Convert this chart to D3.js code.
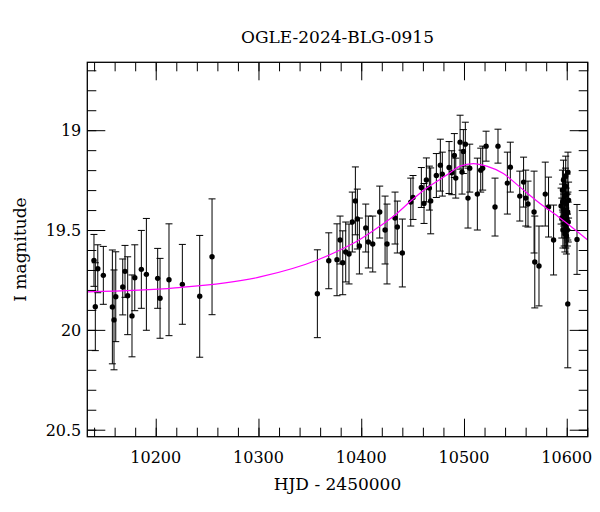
<!DOCTYPE html>
<html>
<head>
<meta charset="utf-8">
<script src="https://cdn.jsdelivr.net/npm/d3@7"></script>
<style>
  body { margin: 0; background: #fff; }
  text { font-family: "DejaVu Serif", serif; fill: #000; }
</style>
</head>
<body>
<div id="chart"></div>
<script>
// OGLE photometry: [HJD-2450000, I mag, error]
const observations = [
  [10139.9, 19.652, 0.13], [10141.2, 19.884, 0.22], [10143.6, 19.694, 0.12],
  [10149.0, 19.727, 0.145], [10157.8, 19.885, 0.285], [10159.4, 19.95, 0.25],
  [10161.1, 19.834, 0.225], [10167.9, 19.785, 0.14], [10170.1, 19.707, 0.13],
  [10172.7, 19.829, 0.195], [10176.9, 19.93, 0.205], [10179.6, 19.739, 0.165],
  [10186.0, 19.697, 0.195], [10190.9, 19.722, 0.28], [10201.9, 19.742, 0.15],
  [10204.2, 19.842, 0.2], [10212.9, 19.749, 0.28], [10225.9, 19.772, 0.2],
  [10242.8, 19.832, 0.305], [10254.8, 19.634, 0.29],
  [10357.3, 19.819, 0.22], [10368.4, 19.654, 0.14], [10376.4, 19.649, 0.18],
  [10379.4, 19.55, 0.12], [10382.0, 19.664, 0.16], [10384.9, 19.61, 0.15],
  [10388.1, 19.62, 0.15], [10391.3, 19.46, 0.15], [10394.3, 19.354, 0.17],
  [10396.2, 19.445, 0.15], [10398.2, 19.58, 0.14], [10404.4, 19.49, 0.12],
  [10406.9, 19.56, 0.13], [10411.2, 19.57, 0.14], [10418.0, 19.41, 0.13],
  [10423.2, 19.50, 0.17], [10425.1, 19.57, 0.2], [10432.9, 19.44, 0.13],
  [10435.1, 19.485, 0.13], [10440.0, 19.615, 0.17], [10448.2, 19.36, 0.12],
  [10450.4, 19.337, 0.11], [10458.5, 19.287, 0.10], [10461.1, 19.367, 0.10],
  [10463.4, 19.249, 0.11], [10466.3, 19.29, 0.11], [10467.6, 19.354, 0.165],
  [10473.1, 19.227, 0.11], [10477.0, 19.175, 0.13], [10478.9, 19.22, 0.11],
  [10485.5, 19.187, 0.13], [10488.1, 19.213, 0.11], [10490.6, 19.127, 0.11],
  [10492.0, 19.24, 0.10], [10496.2, 19.06, 0.135], [10498.1, 19.21, 0.11],
  [10499.4, 19.107, 0.11], [10501.3, 19.07, 0.11], [10503.9, 19.34, 0.15],
  [10505.6, 19.19, 0.12], [10513.0, 19.32, 0.18], [10516.3, 19.2, 0.11],
  [10518.2, 19.19, 0.11], [10521.5, 19.08, 0.075], [10530.2, 19.385, 0.145],
  [10533.1, 19.08, 0.085], [10542.2, 19.265, 0.155], [10545.1, 19.185, 0.125],
  [10554.3, 19.33, 0.125], [10558.0, 19.26, 0.125], [10560.1, 19.34, 0.14],
  [10562.3, 19.37, 0.115], [10568.2, 19.41, 0.205], [10568.9, 19.66, 0.23],
  [10573.0, 19.68, 0.2], [10579.1, 19.32, 0.16], [10582.3, 19.385, 0.15],
  [10587.2, 19.55, 0.175],
  [10594.5, 19.38, 0.09], [10595.2, 19.44, 0.10], [10595.8, 19.30, 0.10],
  [10596.3, 19.50, 0.09], [10596.8, 19.25, 0.10], [10597.1, 19.40, 0.08],
  [10597.5, 19.47, 0.11], [10597.9, 19.33, 0.09], [10598.2, 19.52, 0.09],
  [10598.5, 19.42, 0.08], [10598.8, 19.28, 0.09], [10599.1, 19.49, 0.10],
  [10599.4, 19.37, 0.08], [10599.7, 19.53, 0.09], [10600.0, 19.45, 0.09],
  [10600.3, 19.32, 0.10], [10600.6, 19.50, 0.08], [10600.9, 19.41, 0.09],
  [10601.2, 19.21, 0.10], [10601.5, 19.46, 0.10], [10601.8, 19.35, 0.09],
  [10596.0, 19.36, 0.09], [10599.0, 19.23, 0.10], [10601.0, 19.87, 0.32],
  [10610.0, 19.547, 0.175]
];

// model light curve
const modelHjd = [10133.4, 10218.8, 10301.5, 10357.3, 10379.4, 10396.2, 10418.3, 10432.9,
  10448.2, 10463.7, 10483.2, 10496.2, 10509.1, 10522.1, 10538.3, 10554.5, 10574.0, 10593.5, 10620.4];
const modelMag = [19.81, 19.79, 19.735, 19.65, 19.60, 19.555, 19.48, 19.425,
  19.355, 19.29, 19.225, 19.18, 19.167, 19.18, 19.217, 19.285, 19.367, 19.44, 19.55];

const xTicks = [10200, 10300, 10400, 10500, 10600];
const yTicks = [19, 19.5, 20, 20.5];

const width = 600, height = 512;
const margin = {top: 62.3, right: 12.3, bottom: 75.3, left: 87.3};

const svg = d3.select("#chart").append("svg")
  .attr("width", width)
  .attr("height", height);

const x = d3.scaleLinear().domain([10133.4, 10620.4]).range([margin.left, width - margin.right]);
const y = d3.scaleLinear().domain([18.66, 20.535]).range([margin.top, height - margin.bottom]);

const x0 = x.range()[0], x1 = x.range()[1];
const y0 = y.range()[0], y1 = y.range()[1];

svg.append("clipPath").attr("id", "plot")
  .append("rect").attr("x", x0).attr("y", y0).attr("width", x1 - x0).attr("height", y1 - y0);

// ticks pointing inward on all four sides
const xMinor = d3.range(10140, 10621, 20);
const yMinor = d3.range(18.7, 20.51, 0.1);
const majorLen = 18, minorLen = 9;

function tickSide(axisFn, scale, values, len, transform) {
  svg.append("g")
    .attr("transform", transform)
    .call(axisFn(scale).tickValues(values).tickSize(-len).tickFormat(""))
    .call(g => g.select(".domain").remove())
    .call(g => g.selectAll("line").attr("stroke", "#000").attr("stroke-width", 1));
}

tickSide(d3.axisBottom, x, xMinor, minorLen, `translate(0,${y1})`);
tickSide(d3.axisBottom, x, xTicks, majorLen, `translate(0,${y1})`);
tickSide(d3.axisTop, x, xMinor, minorLen, `translate(0,${y0})`);
tickSide(d3.axisTop, x, xTicks, majorLen, `translate(0,${y0})`);
tickSide(d3.axisLeft, y, yMinor, minorLen, `translate(${x0},0)`);
tickSide(d3.axisLeft, y, yTicks, majorLen, `translate(${x0},0)`);
tickSide(d3.axisRight, y, yMinor, minorLen, `translate(${x1},0)`);
tickSide(d3.axisRight, y, yTicks, majorLen, `translate(${x1},0)`);

// tick labels
svg.append("g").selectAll("text")
  .data(xTicks)
  .join("text")
  .attr("x", d => x(d))
  .attr("y", y1 + 26)
  .attr("text-anchor", "middle")
  .attr("font-size", 16)
  .text(d => d);

svg.append("g").selectAll("text")
  .data(yTicks)
  .join("text")
  .attr("x", x0 - 6)
  .attr("y", d => y(d) + 6)
  .attr("text-anchor", "end")
  .attr("font-size", 16)
  .text(d => d);

// error bars and points
const dataG = svg.append("g").attr("clip-path", "url(#plot)");
const cap = 3.5;

const bars = dataG.selectAll("g.obs")
  .data(observations)
  .join("g")
  .attr("class", "obs")
  .attr("stroke", "#000")
  .attr("stroke-width", 1);

bars.append("line")
  .attr("x1", d => x(d[0])).attr("x2", d => x(d[0]))
  .attr("y1", d => y(d[1] - d[2])).attr("y2", d => y(d[1] + d[2]));
bars.append("line")
  .attr("x1", d => x(d[0]) - cap).attr("x2", d => x(d[0]) + cap)
  .attr("y1", d => y(d[1] - d[2])).attr("y2", d => y(d[1] - d[2]));
bars.append("line")
  .attr("x1", d => x(d[0]) - cap).attr("x2", d => x(d[0]) + cap)
  .attr("y1", d => y(d[1] + d[2])).attr("y2", d => y(d[1] + d[2]));

dataG.selectAll("circle")
  .data(observations)
  .join("circle")
  .attr("cx", d => x(d[0]))
  .attr("cy", d => y(d[1]))
  .attr("r", 2.7)
  .attr("fill", "#000");

// model curve
const line = d3.line()
  .x((d, i) => x(modelHjd[i]))
  .y(d => y(d))
  .curve(d3.curveMonotoneX);

dataG.append("path")
  .attr("d", line(modelMag))
  .attr("fill", "none")
  .attr("stroke", "#ff00ff")
  .attr("stroke-width", 1.2);

// frame
svg.append("rect")
  .attr("x", x0).attr("y", y0)
  .attr("width", x1 - x0).attr("height", y1 - y0)
  .attr("fill", "none")
  .attr("stroke", "#000")
  .attr("stroke-width", 1.3);

// titles
svg.append("text")
  .attr("x", (x0 + x1) / 2)
  .attr("y", 43)
  .attr("text-anchor", "middle")
  .attr("font-size", 17)
  .text("OGLE-2024-BLG-0915");

svg.append("text")
  .attr("x", (x0 + x1) / 2)
  .attr("y", 490)
  .attr("text-anchor", "middle")
  .attr("font-size", 17)
  .text("HJD - 2450000");

svg.append("text")
  .attr("transform", `translate(26,${(y0 + y1) / 2}) rotate(-90)`)
  .attr("text-anchor", "middle")
  .attr("font-size", 17)
  .text("I magnitude");
</script>
</body>
</html>
